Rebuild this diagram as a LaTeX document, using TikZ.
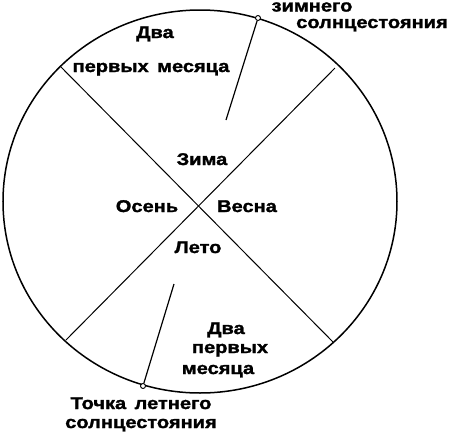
\documentclass[tikz,border=0pt]{standalone}
\usepackage{fontspec}
\newfontfamily\lab{Liberation Sans}[FakeStretch=1.18, FakeBold=1.6]
\begin{document}
\begin{tikzpicture}[x=1pt,y=1pt,
  lbl/.style={font=\lab\bfseries\fontsize{17}{19}\selectfont, inner sep=0pt, anchor=base},
  rim/.style={line width=1.5pt},
  cut/.style={line width=1pt},
  ptr/.style={line width=1.2pt},
  dot/.style={circle, draw, fill=white, line width=0.9pt, minimum size=5pt, inner sep=0pt}]
\useasboundingbox (0,0) rectangle (451,-432);
\fill[white] (0,0) rectangle (451,-432);
% circle
\coordinate (c) at (200,-201.5);
\draw[rim] (c) ellipse [x radius=197, y radius=191.5];
% cross
\coordinate (a1) at (61,-67);
\coordinate (a2) at (333,-342);
\coordinate (b1) at (335,-68);
\coordinate (b2) at (66,-340);
\draw[cut] (a1) -- (a2);
\draw[cut] (b1) -- (b2);
% solstice pointers
\coordinate (wend) at (226,-120);
\coordinate (send) at (174,-284);
\node[dot] (w) at (258,-18) {};
\node[dot] (s) at (143,-386) {};
\draw[ptr] (w) -- (wend);
\draw[ptr] (s) -- (send);
% labels
\node[lbl, text height=9pt] (w1) at (312,-11.5) {зимнего};
\node[lbl] (w2) at (372,-28) {солнцестояния};
\node[lbl] (t1) at (155,-38) {Два};
\node[lbl] (t2) at (151,-72) {первых\, месяца};
\node[lbl] (zi) at (202,-165) {Зима};
\node[lbl] (os) at (147,-212) {Осень};
\node[lbl] (ve) at (247,-212) {Весна};
\node[lbl] (le) at (198,-253) {Лето};
\node[lbl] (r1) at (226,-334) {Два};
\node[lbl] (r2) at (230,-353) {первых};
\node[lbl] (r3) at (218,-374) {месяца};
\node[lbl] (s1) at (141,-409) {Точка\, летнего};
\node[lbl] (s2) at (141,-428) {солнцестояния};
\end{tikzpicture}
\end{document}
